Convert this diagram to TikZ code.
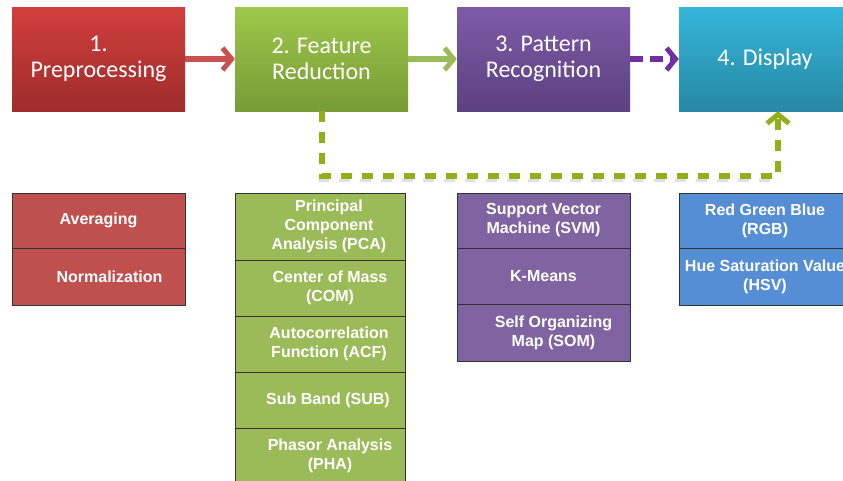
\documentclass[tikz,border=0pt]{standalone}
\usepackage{fontspec}
\setmainfont{Carlito}
\newfontfamily\arialb{Liberation Sans Bold}
\usetikzlibrary{arrows.meta,calc}
\definecolor{redT}{HTML}{D23F3D}
\definecolor{redB}{HTML}{9E2C2B}
\definecolor{grnT}{HTML}{9DC84B}
\definecolor{grnB}{HTML}{789B36}
\definecolor{purT}{HTML}{7E5BA8}
\definecolor{purB}{HTML}{5C4180}
\definecolor{bluT}{HTML}{36B5DA}
\definecolor{bluB}{HTML}{2788A4}
\definecolor{redC}{HTML}{C0504D}
\definecolor{grnC}{HTML}{9BBB59}
\definecolor{purC}{HTML}{8064A2}
\definecolor{bluC}{HTML}{558ED5}
\definecolor{redA}{HTML}{C8504E}
\definecolor{grnA}{HTML}{9BBB59}
\definecolor{purA}{HTML}{7030A0}
\definecolor{dashA}{HTML}{8FB01A}
\tikzset{
  stage/.style={minimum width=173pt, minimum height=104pt, inner sep=0pt,
    text=white, align=center, font=\fontsize{24}{26}\selectfont},
  celltext/.style={text=white, align=center, inner sep=0pt,
    font=\arialb\fontsize{16}{19}\selectfont},
  cell/.style={draw=black!80, line width=1pt, minimum width=173pt, inner sep=0pt, celltext},
  flow/.style={line width=6pt, -{Straight Barb[length=9pt,width=22pt,line width=5pt]}},
}
\begin{document}
\begin{tikzpicture}[x=1pt,y=-1pt]
\useasboundingbox (0,0) rectangle (843,480);
\clip (0,0) rectangle (843,480);
\fill[white] (0,0) rectangle (843,480);
% top stages
\node[stage, top color=redT, bottom color=redB] (b1) at (98.5,59) {1.\\Preprocessing};
\node[stage, top color=grnT, bottom color=grnB] (b2) at (321.5,59) {2. Feature\\Reduction};
\node[stage, top color=purT, bottom color=purB] (b3) at (543.5,59) {3. Pattern\\Recognition};
\node[stage, top color=bluT, bottom color=bluB, minimum width=172pt] (b4) at (765,59) {4. Display};
% connectors
\draw[flow, draw=redA] (b1.east) -- (b2.west);
\draw[flow, draw=grnA] (b2.east) -- (b3.west);
\draw[flow, draw=purA, dash pattern=on 13pt off 7pt] (b3.east) -- (b4.west);
\coordinate (dc) at (778,176);
\coordinate (ds) at (780,180);
\coordinate (dl) at (318,180);
\draw[black!12, line width=3pt, dash pattern=on 11pt off 10pt] (dl) -- (ds);
\draw[line width=6pt, draw=dashA, dash pattern=on 11pt off 10pt,
  -{Straight Barb[length=9pt,width=22pt,line width=5pt]}]
  (b2.south) |- (dc) -- (dc |- b4.south);
% lower lists
\node[cell, fill=redC, minimum height=55pt] (r1) at (98.5,220.5) {Averaging};
\node[cell, fill=redC, minimum height=57pt,
  label={[celltext, xshift=11pt]center:Normalization}] (r2) at (98.5,276.5) {};
\node[cell, fill=grnC, minimum width=170pt, minimum height=67pt,
  label={[celltext, xshift=9pt]center:{Principal\\Component\\Analysis (PCA)}}] (g1) at (320,226.5) {};
\node[cell, fill=grnC, minimum width=170pt, minimum height=56pt,
  label={[celltext, xshift=10pt]center:{Center of Mass\\(COM)}}] (g2) at (320,288) {};
\node[cell, fill=grnC, minimum width=170pt, minimum height=56pt,
  label={[celltext, xshift=9pt]center:{Autocorrelation\\Function (ACF)}}] (g3) at (320,344) {};
\node[cell, fill=grnC, minimum width=170pt, minimum height=56pt,
  label={[celltext, xshift=8pt]center:{Sub Band (SUB)}}] (g4) at (320,400) {};
\node[cell, fill=grnC, minimum width=170pt, minimum height=56pt,
  label={[celltext, xshift=10pt]center:{Phasor Analysis\\(PHA)}}] (g5) at (320,456) {};
\node[cell, fill=purC, minimum height=55pt] (p1) at (543.5,220.5) {Support Vector\\Machine (SVM)};
\node[cell, fill=purC, minimum height=56pt] (p2) at (543.5,276) {K-Means};
\node[cell, fill=purC, minimum height=57pt,
  label={[celltext, xshift=10pt]center:{Self Organizing\\Map (SOM)}}] (p3) at (543.5,332.5) {};
\node[cell, fill=bluC, minimum width=172pt, minimum height=55pt] (h1) at (765,220.5) {Red Green Blue\\(RGB)};
\node[cell, fill=bluC, minimum width=172pt, minimum height=57pt] (h2) at (765,276.5) {Hue Saturation Value\\(HSV)};
\end{tikzpicture}
\end{document}
